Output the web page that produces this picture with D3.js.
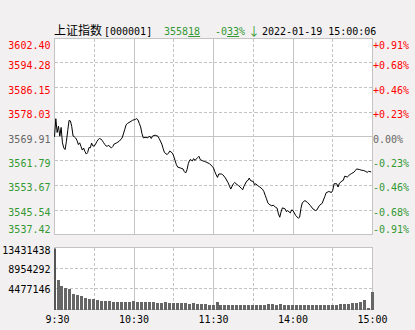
<!DOCTYPE html>
<html>
<style>
  body { margin: 0; background: #f2f0f0; overflow: hidden; }
  svg { display: block; }
  .mono { font-family: "DejaVu Sans Mono", monospace; font-size: 10px; }
</style>
<script src="https://d3js.org/d3.v7.min.js"></script>
<svg></svg>
<script>
var prevClose = 3569.91,
    lastPrice = 3558.18;

var priceTicks = [3602.40, 3594.28, 3586.15, 3578.03, 3569.91, 3561.79, 3553.67, 3545.54, 3537.42];
var pctTicks = ["+0.91%", "+0.68%", "+0.46%", "+0.23%", "0.00%", "-0.23%", "-0.46%", "-0.68%", "-0.91%"];
var volTicks = [13431438, 8954292, 4477146];
var timeLabels = ["9:30", "10:30", "11:30", "14:00", "15:00"];
var timeLabelMin = [0, 60, 120, 180, 240];

// minutes since 9:30 (lunch break removed) and index level
var lineMin = [0,1,2,3,4,5,6,7,8,9,10,11,12,13,14,15,16,17,18,19,20,21,22,23,24,25,26,27,28,29,
  30,31,32,33,34,35,36,37,38,39,40,41,42,43,44,45,47,49,51,52,53,54,55,57,59,61,62,63,64,65,
  66,67,69,70,72,73,74,76,78,79,81,82,83,85,86,87,89,90,91,92,93,95,97,98,99,100,101,102,103,104,
  105,106,108,109,110,112,113,115,117,119,120,121,122,123,124,126,127,129,131,132,133,135,136,137,139,141,142,143,145,146,
  147,148,150,151,152,153,155,157,158,159,160,161,162,164,165,167,168,169,170,171,172,174,175,176,178,179,180,181,182,184,
  185,186,187,189,191,193,195,197,198,200,202,204,205,207,209,210,211,213,214,215,217,218,219,221,223,224,226,227,228,230,
  232,233,235,236,237,239];
var linePrice = [3569.81,3575.81,3571.24,3573.34,3570.01,3572.91,3567.81,3566.14,3565.58,3568.34,
  3571.91,3575.24,3575.08,3573.24,3570.08,3569.81,3569.41,3568.58,3567.24,3567.81,
  3566.58,3565.41,3566.08,3564.91,3564.08,3564.58,3566.24,3566.14,3567.74,3566.74,
  3566.74,3567.41,3568.24,3568.91,3569.24,3569.08,3568.58,3567.91,3567.24,3566.74,
  3566.74,3566.98,3566.41,3566.14,3566.58,3567.41,3567.81,3568.41,3569.41,3570.74,
  3572.24,3573.74,3574.24,3574.74,3575.31,3575.57,3575.84,3575.41,3574.24,3573.08,
  3570.91,3569.48,3569.64,3569.48,3570.01,3569.24,3570.08,3570.34,3570.01,3569.24,
  3567.41,3565.91,3564.58,3563.91,3564.41,3565.08,3564.41,3563.35,3561.91,3560.58,
  3559.75,3559.48,3559.15,3558.25,3557.81,3558.91,3560.91,3562.08,3562.25,3561.75,
  3562.58,3561.98,3562.91,3563.35,3562.25,3561.81,3561.68,3561.31,3560.91,3560.01,
  3559.48,3558.25,3557.25,3556.35,3557.48,3557.48,3557.25,3556.15,3554.58,3553.58,
  3552.48,3554.25,3554.68,3554.25,3553.58,3552.75,3552.25,3553.42,3555.08,3555.35,
  3556.15,3555.25,3555.01,3553.91,3554.25,3553.75,3553.15,3552.42,3551.68,3550.42,
  3549.25,3547.92,3547.42,3546.92,3547.15,3546.42,3546.15,3544.25,3543.15,3544.92,
  3546.25,3545.92,3545.02,3545.32,3544.58,3545.58,3545.35,3544.58,3543.75,3542.82,
  3543.15,3546.08,3547.92,3548.68,3548.02,3547.08,3545.92,3545.35,3545.58,3547.08,
  3547.75,3550.02,3551.25,3551.68,3551.35,3552.08,3554.25,3554.25,3553.15,3554.41,
  3555.18,3555.41,3556.75,3556.48,3557.31,3557.58,3558.08,3558.58,3559.15,3558.98,
  3558.68,3558.68,3558.31,3558.01,3558.35,3558.18];

// opening auction volume, then 3-minute volume buckets
var openVol = 13431438;
var vol3m = [6350000,5050000,4620000,4480000,3320000,3180000,2880000,2530000,2380000,2170000,
  2020000,1880000,1810000,1810000,1730000,1730000,1660000,1660000,1660000,1810000,
  1730000,1660000,1590000,1520000,1520000,1440000,1440000,1520000,1370000,1370000,
  1370000,1300000,1300000,1230000,1300000,1150000,1150000,1150000,1080000,870000,
  1600000,980000,950000,950000,970000,950000,960000,950000,980000,950000,
  960000,980000,950000,1200000,1250000,1000000,1250000,1000000,1000000,1000000,
  1000000,950000,950000,950000,1000000,1050000,1000000,1000000,1050000,950000,
  1050000,1100000,1150000,1250000,1400000,1500000,1700000,2000000,300000,3800000];

var red = "#ff0000", green = "#339933", gray = "#666666", gridColor = "#c4c4c4";

var svg = d3.select("svg").attr("width", 415).attr("height", 330);

var x = d3.scaleLinear().domain([0, 240]).range([54.5, 372.5]);
var y = d3.scaleLinear().domain([priceTicks[8], priceTicks[0]]).range([234.5, 38.5]);
var vy = d3.scaleLinear().domain([0, volTicks[0]]).range([309.5, 247.5]);

function snap(v) { return Math.round(v - 0.5) + 0.5; }

// ---- header ----
svg.append("text")
    .attr("x", 54).attr("y", 35)
    .style("font-family", "'Noto Sans CJK SC'").style("font-size", "12px")
    .text("上证指数");

svg.append("text").attr("class", "mono")
    .attr("x", 104).attr("y", 35)
    .text("[000001]");

var lp = lastPrice.toFixed(2).split(".");
var quote = svg.append("text").attr("class", "mono")
    .attr("x", 164).attr("y", 35).style("fill", green);
quote.append("tspan").text(lp[0]);
quote.append("tspan").style("text-decoration", "underline").text(lp[1]);

var pct = ((lastPrice - prevClose) / prevClose * 100).toFixed(2).split(".");
var chg = svg.append("text").attr("class", "mono")
    .attr("x", 215).attr("y", 35).style("fill", green);
chg.append("tspan").text(pct[0]);
chg.append("tspan").style("text-decoration", "underline").text(pct[1]);
chg.append("tspan").text("%");

svg.append("text")
    .attr("x", 248).attr("y", 35.5)
    .style("font-family", "'Noto Sans CJK SC'").style("font-size", "12px")
    .style("fill", green)
    .text("↓");

svg.append("text").attr("class", "mono")
    .attr("x", 262).attr("y", 35)
    .text("2022-01-19 15:00:06");

// ---- panels ----
function panel(y0, y1) {
  svg.append("rect")
      .attr("x", 54.5).attr("y", y0)
      .attr("width", 318).attr("height", y1 - y0)
      .style("fill", "#fff")
      .style("stroke", gridColor)
      .style("shape-rendering", "crispEdges");

  svg.append("g").selectAll("line")
      .data(d3.range(30, 240, 30))
    .enter().append("line")
      .attr("x1", function(d) { return snap(x(d)); })
      .attr("x2", function(d) { return snap(x(d)); })
      .attr("y1", y0).attr("y2", y1)
      .style("stroke", gridColor)
      .style("shape-rendering", "crispEdges")
      .style("stroke-dasharray", function(d) { return d % 60 ? "3,2" : null; });
}

panel(38.5, 234.5);
panel(247.5, 309.5);

// price grid
svg.append("g").selectAll("line")
    .data(priceTicks.slice(1, 8))
  .enter().append("line")
    .attr("x1", 54.5).attr("x2", 372.5)
    .attr("y1", function(d) { return snap(y(d)); })
    .attr("y2", function(d) { return snap(y(d)); })
    .style("stroke", gridColor)
    .style("shape-rendering", "crispEdges")
    .style("stroke-dasharray", function(d) { return d === prevClose ? null : "3,2"; });

// volume grid
svg.append("g").selectAll("line")
    .data(volTicks.slice(1))
  .enter().append("line")
    .attr("x1", 54.5).attr("x2", 372.5)
    .attr("y1", function(d) { return snap(vy(d)); })
    .attr("y2", function(d) { return snap(vy(d)); })
    .style("stroke", gridColor)
    .style("shape-rendering", "crispEdges")
    .style("stroke-dasharray", "3,2");

// ---- axis labels ----
function tickColor(d) { return d > prevClose ? red : d < prevClose ? green : gray; }
function labelY(d, i) {
  if (i === 0) return y(d) + 10.5;
  if (i === 8) return y(d) - 1.5;
  return y(d) + 6;
}

svg.append("g").selectAll("text")
    .data(priceTicks)
  .enter().append("text").attr("class", "mono")
    .attr("x", 50.5).attr("y", labelY)
    .attr("text-anchor", "end")
    .style("fill", tickColor)
    .text(function(d) { return d.toFixed(2); });

svg.append("g").selectAll("text")
    .data(pctTicks)
  .enter().append("text").attr("class", "mono")
    .attr("x", 373).attr("y", function(d, i) { return labelY(priceTicks[i], i); })
    .style("fill", function(d, i) { return tickColor(priceTicks[i]); })
    .text(function(d) { return d; });

svg.append("g").selectAll("text")
    .data(volTicks)
  .enter().append("text").attr("class", "mono")
    .attr("x", 50.5)
    .attr("y", function(d, i) { return vy(d) + (i === 0 ? 6 : 4.5); })
    .attr("text-anchor", "end")
    .text(function(d) { return d; });

svg.append("g").selectAll("text")
    .data(timeLabels)
  .enter().append("text").attr("class", "mono")
    .attr("x", function(d, i) { return x(timeLabelMin[i]) + (i === 0 ? 3 : 0); })
    .attr("y", 323)
    .attr("text-anchor", "middle")
    .text(function(d) { return d; });

// ---- volume bars ----
svg.append("rect")
    .attr("x", 54).attr("width", 2)
    .attr("y", vy(openVol) + 1)
    .attr("height", vy(0) - vy(openVol) - 0.5)
    .style("fill", "#555");

svg.append("g").selectAll("rect")
    .data(vol3m)
  .enter().append("rect")
    .attr("x", function(d, i) { return Math.round(x(i * 3)) + 2; })
    .attr("width", 3)
    .attr("y", function(d) { return Math.round(vy(d)); })
    .attr("height", function(d) { return Math.round(vy(0)) - Math.round(vy(d)); })
    .style("fill", "#666")
    .style("shape-rendering", "crispEdges");

// ---- price line ----
var line = d3.line()
    .x(function(d, i) { return x(lineMin[i]); })
    .y(function(d) { return y(d); });

svg.append("path")
    .datum(linePrice)
    .attr("d", line)
    .style("fill", "none")
    .style("stroke", "#000")
    .style("stroke-width", 1);
</script>
</html>
